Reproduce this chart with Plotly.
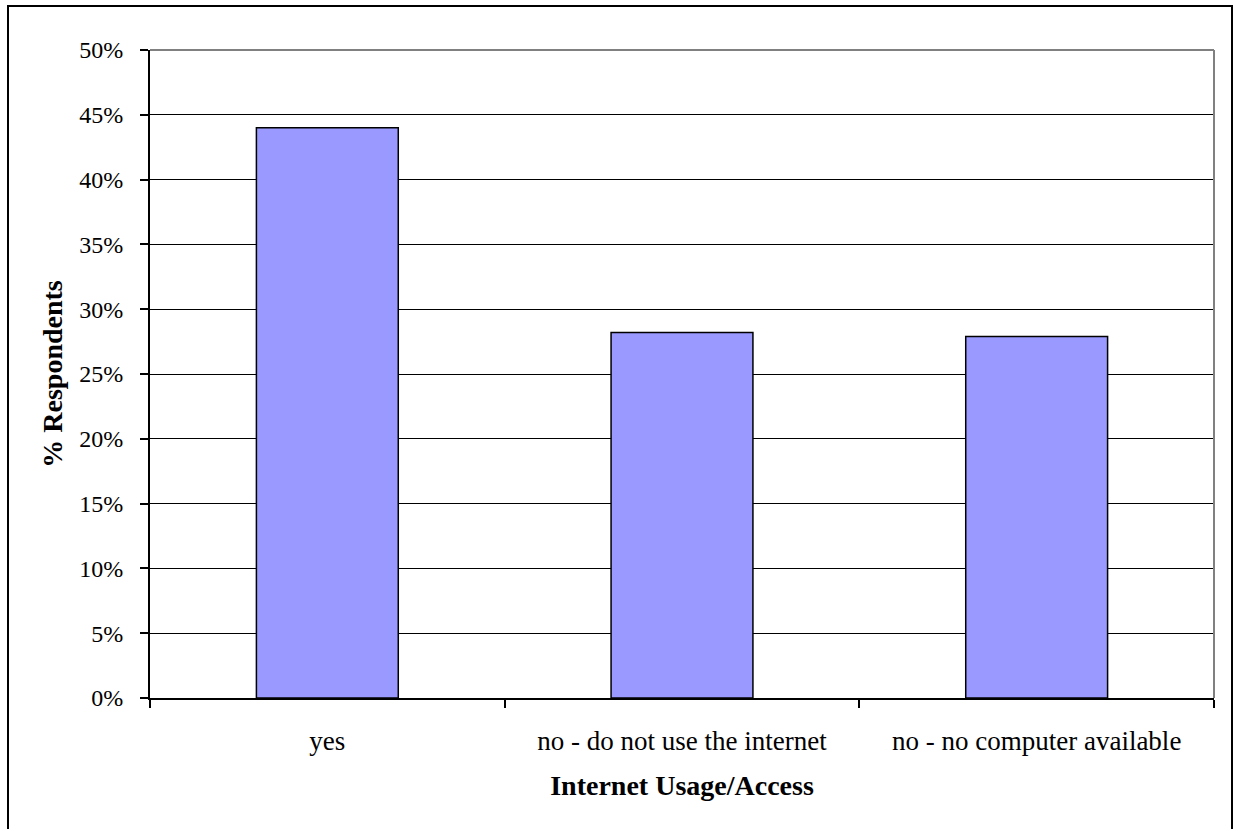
import plotly.graph_objects as go

categories = ["yes", "no - do not use the internet", "no - no computer available"]
values = [0.440, 0.282, 0.279]

L, R, T, B = 150, 1214, 50, 698
W, H = 1235, 829

fig = go.Figure(go.Bar(
    x=categories, y=values,
    marker=dict(color="#9999FF", line=dict(color="black", width=1.5)),
))

def px_to_paper_x(px):
    return (px - L) / (R - L)

def px_to_paper_y(py):
    return (B - py) / (B - T)

FONT = "Liberation Serif, Times New Roman, serif"

fig.update_layout(
    width=W, height=H,
    margin=dict(l=L, r=W - R, t=T, b=H - B),
    paper_bgcolor="white", plot_bgcolor="white",
    bargap=0.6,
    showlegend=False,
    font=dict(family=FONT, size=24, color="black"),
    xaxis=dict(
        type="category",
        tickson="boundaries",
        ticks="outside", ticklen=8, tickwidth=2, tickcolor="black",
        showline=True, linecolor="black", linewidth=2,
        showgrid=False,
        tickfont=dict(size=27),
        ticklabelstandoff=18,
        title=dict(text="<b>Internet Usage/Access</b>", font=dict(size=28), standoff=20),
    ),
    yaxis=dict(
        range=[0, 0.5], dtick=0.05, tickformat=".0%",
        ticks="outside", ticklen=8, tickwidth=2, tickcolor="black",
        showline=True, linecolor="black", linewidth=2,
        showgrid=True, gridcolor="black", gridwidth=1,
        zeroline=False,
        tickfont=dict(size=24),
        ticklabelstandoff=12,
        title=dict(text="<b>% Respondents</b>", font=dict(size=28), standoff=8),
    ),
    shapes=[
        dict(type="line", xref="paper", yref="paper", x0=0, x1=1, y0=1, y1=1,
             line=dict(color="#808080", width=2)),
        dict(type="line", xref="paper", yref="paper", x0=1, x1=1, y0=0, y1=1,
             line=dict(color="#808080", width=2)),
        dict(type="rect", xref="paper", yref="paper",
             x0=px_to_paper_x(8), x1=px_to_paper_x(1232),
             y0=px_to_paper_y(840), y1=px_to_paper_y(6),
             line=dict(color="black", width=2), fillcolor="rgba(0,0,0,0)"),
    ],
)

fig.write_html("out.html")
